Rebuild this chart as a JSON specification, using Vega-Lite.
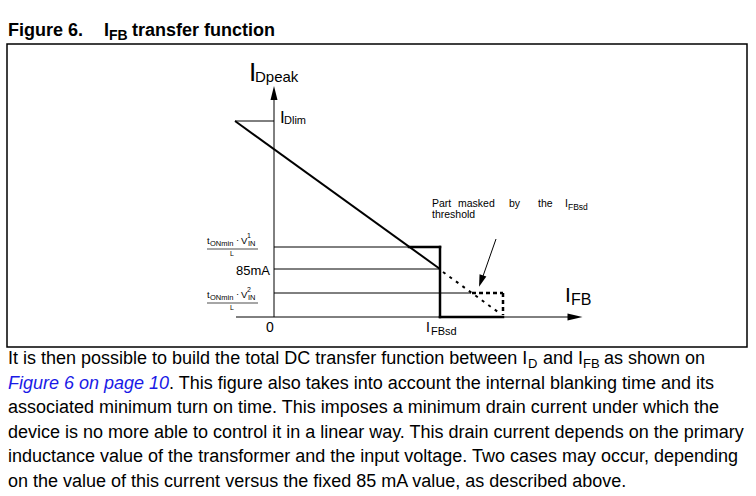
{
  "$schema": "https://vega.github.io/schema/vega-lite/v6.json",
  "width": 756,
  "height": 496,
  "padding": 0,
  "autosize": {"type": "none"},
  "background": "white",
  "config": {"view": {"stroke": null}},
  "datasets": {
    "box": [{"x": 7, "y": 44, "x2": 747, "y2": 347}],
    "thin": [
      {"x": 274, "y": 317, "x2": 274, "y2": 98},
      {"x": 236, "y": 317, "x2": 570, "y2": 317},
      {"x": 235, "y": 121, "x2": 274, "y2": 121},
      {"x": 274, "y": 247, "x2": 409, "y2": 247},
      {"x": 274, "y": 269, "x2": 440, "y2": 269},
      {"x": 274, "y": 293, "x2": 471, "y2": 293},
      {"x": 496, "y": 239, "x2": 482, "y2": 279}
    ],
    "frac": [
      {"x": 207, "y": 249, "x2": 258, "y2": 249},
      {"x": 207, "y": 303, "x2": 258, "y2": 303}
    ],
    "diag": [{"x": 235, "y": 121, "x2": 440, "y2": 269}],
    "thick": [
      {"x": 409, "y": 247, "x2": 440, "y2": 247},
      {"x": 440, "y": 247, "x2": 440, "y2": 317},
      {"x": 440, "y": 317, "x2": 503, "y2": 317}
    ],
    "dash": [{"x": 443, "y": 272, "x2": 498, "y2": 312}],
    "dot": [
      {"x": 472, "y": 293, "x2": 503, "y2": 293},
      {"x": 503, "y": 293, "x2": 503, "y2": 315}
    ],
    "yarrow": [{"x": 274, "y": 93}],
    "xarrow": [{"x": 575, "y": 317}],
    "aarrow": [{"x": 481, "y": 281}],
    "titleText": [
      {"x": 8, "y": 36, "t": "Figure 6."},
      {"x": 104, "y": 36, "t": "I"},
      {"x": 132, "y": 36, "t": "transfer function"}
    ],
    "titleSub": [{"x": 109, "y": 40, "t": "FB"}],
    "bigI": [{"x": 249, "y": 81, "t": "I"}],
    "dpeak": [{"x": 255, "y": 82, "t": "Dpeak"}],
    "ifbI": [{"x": 565, "y": 302, "t": "I"}],
    "ifbSub": [{"x": 571, "y": 305, "t": "FB"}],
    "midI": [{"x": 280, "y": 123, "t": "I"}],
    "smallSub": [
      {"x": 284, "y": 124, "t": "Dlim"},
      {"x": 431, "y": 335, "t": "FBsd"}
    ],
    "label13": [{"x": 270, "y": 275, "t": "85mA"}],
    "zero": [{"x": 270, "y": 332, "t": "0"}],
    "ifbsdI": [{"x": 426, "y": 332, "t": "I"}],
    "note": [
      {"x": 432, "y": 207, "t": "Part"},
      {"x": 458, "y": 207, "t": "masked"},
      {"x": 509, "y": 207, "t": "by"},
      {"x": 538, "y": 207, "t": "the"},
      {"x": 565, "y": 207, "t": "I"}
    ],
    "note2": [{"x": 432, "y": 218, "t": "threshold"}],
    "noteSub": [{"x": 568, "y": 210, "t": "FBsd"}],
    "fracMain": [
      {"x": 207, "y": 244, "t": "t"},
      {"x": 236, "y": 243, "t": "·"},
      {"x": 241, "y": 244, "t": "V"},
      {"x": 207, "y": 298, "t": "t"},
      {"x": 236, "y": 297, "t": "·"},
      {"x": 241, "y": 298, "t": "V"}
    ],
    "fracSub": [
      {"x": 210, "y": 246, "t": "ONmin"},
      {"x": 248, "y": 246, "t": "IN"},
      {"x": 210, "y": 300, "t": "ONmin"},
      {"x": 248, "y": 300, "t": "IN"}
    ],
    "fracTiny": [
      {"x": 247, "y": 238, "t": "1"},
      {"x": 230, "y": 256, "t": "L"},
      {"x": 247, "y": 292, "t": "2"},
      {"x": 230, "y": 310, "t": "L"}
    ],
    "para": [
      {"x": 8, "y": 364, "t": "It is then possible to build the total DC transfer function between I"},
      {"x": 543, "y": 364, "t": "and I"},
      {"x": 604, "y": 364, "t": "as shown on"},
      {"x": 169, "y": 388.5, "t": ". This figure also takes into account the internal blanking time and its"},
      {"x": 8, "y": 413, "t": "associated minimum turn on time. This imposes a minimum drain current under which the"},
      {"x": 8, "y": 437.5, "t": "device is no more able to control it in a linear way. This drain current depends on the primary"},
      {"x": 8, "y": 462, "t": "inductance value of the transformer and the input voltage. Two cases may occur, depending"},
      {"x": 8, "y": 486.5, "t": "on the value of this current versus the fixed 85 mA value, as described above."}
    ],
    "paraSub": [
      {"x": 528, "y": 368, "t": "D"},
      {"x": 583, "y": 368, "t": "FB"}
    ],
    "link": [{"x": 8, "y": 388.5, "t": "Figure 6 on page 10"}]
  },
  "encoding": {
    "x": {"field": "x", "type": "quantitative", "scale": {"domain": [0, 756], "nice": false, "zero": false}, "axis": null},
    "y": {"field": "y", "type": "quantitative", "scale": {"domain": [0, 496], "nice": false, "zero": false, "reverse": true}, "axis": null}
  },
  "layer": [
    {"data": {"name": "box"}, "mark": {"type": "rect", "fill": null, "fillOpacity": 0, "stroke": "black", "strokeWidth": 1.5}, "encoding": {"x2": {"field": "x2"}, "y2": {"field": "y2"}}},
    {"data": {"name": "thin"}, "mark": {"type": "rule", "color": "black", "strokeWidth": 1}, "encoding": {"x2": {"field": "x2"}, "y2": {"field": "y2"}}},
    {"data": {"name": "frac"}, "mark": {"type": "rule", "color": "black", "strokeWidth": 0.7}, "encoding": {"x2": {"field": "x2"}, "y2": {"field": "y2"}}},
    {"data": {"name": "diag"}, "mark": {"type": "rule", "color": "black", "strokeWidth": 2}, "encoding": {"x2": {"field": "x2"}, "y2": {"field": "y2"}}},
    {"data": {"name": "thick"}, "mark": {"type": "rule", "color": "black", "strokeWidth": 2.5, "strokeCap": "square"}, "encoding": {"x2": {"field": "x2"}, "y2": {"field": "y2"}}},
    {"data": {"name": "dash"}, "mark": {"type": "rule", "color": "black", "strokeWidth": 2, "strokeDash": [3, 5]}, "encoding": {"x2": {"field": "x2"}, "y2": {"field": "y2"}}},
    {"data": {"name": "dot"}, "mark": {"type": "rule", "color": "black", "strokeWidth": 2.5, "strokeDash": [4, 3]}, "encoding": {"x2": {"field": "x2"}, "y2": {"field": "y2"}}},
    {"data": {"name": "yarrow"}, "mark": {"type": "point", "shape": "M0,-1L0.5,1L-0.5,1Z", "filled": true, "color": "black", "opacity": 1, "size": 196, "angle": 0, "strokeWidth": 0}},
    {"data": {"name": "xarrow"}, "mark": {"type": "point", "shape": "M0,-1L0.47,1L-0.47,1Z", "filled": true, "color": "black", "opacity": 1, "size": 225, "angle": 90, "strokeWidth": 0}},
    {"data": {"name": "aarrow"}, "mark": {"type": "point", "shape": "M0,-1L0.6,1L-0.6,1Z", "filled": true, "color": "black", "opacity": 1, "size": 144, "angle": 199, "strokeWidth": 0}},
    {"data": {"name": "titleText"}, "mark": {"type": "text", "font": "Liberation Sans", "fontSize": 18, "fontWeight": "bold", "align": "left", "baseline": "alphabetic", "color": "black"}, "encoding": {"text": {"field": "t"}}},
    {"data": {"name": "titleSub"}, "mark": {"type": "text", "font": "Liberation Sans", "fontSize": 14, "fontWeight": "bold", "align": "left", "baseline": "alphabetic", "color": "black"}, "encoding": {"text": {"field": "t"}}},
    {"data": {"name": "bigI"}, "mark": {"type": "text", "font": "Liberation Sans", "fontSize": 26, "align": "left", "baseline": "alphabetic", "color": "black"}, "encoding": {"text": {"field": "t"}}},
    {"data": {"name": "dpeak"}, "mark": {"type": "text", "font": "Liberation Sans", "fontSize": 15, "align": "left", "baseline": "alphabetic", "color": "black"}, "encoding": {"text": {"field": "t"}}},
    {"data": {"name": "ifbI"}, "mark": {"type": "text", "font": "Liberation Sans", "fontSize": 21, "align": "left", "baseline": "alphabetic", "color": "black"}, "encoding": {"text": {"field": "t"}}},
    {"data": {"name": "ifbSub"}, "mark": {"type": "text", "font": "Liberation Sans", "fontSize": 16, "align": "left", "baseline": "alphabetic", "color": "black"}, "encoding": {"text": {"field": "t"}}},
    {"data": {"name": "midI"}, "mark": {"type": "text", "font": "Liberation Sans", "fontSize": 17, "align": "left", "baseline": "alphabetic", "color": "black"}, "encoding": {"text": {"field": "t"}}},
    {"data": {"name": "smallSub"}, "mark": {"type": "text", "font": "Liberation Sans", "fontSize": 11, "align": "left", "baseline": "alphabetic", "color": "black"}, "encoding": {"text": {"field": "t"}}},
    {"data": {"name": "label13"}, "mark": {"type": "text", "font": "Liberation Sans", "fontSize": 13, "align": "right", "baseline": "alphabetic", "color": "black"}, "encoding": {"text": {"field": "t"}}},
    {"data": {"name": "zero"}, "mark": {"type": "text", "font": "Liberation Sans", "fontSize": 14, "align": "center", "baseline": "alphabetic", "color": "black"}, "encoding": {"text": {"field": "t"}}},
    {"data": {"name": "ifbsdI"}, "mark": {"type": "text", "font": "Liberation Sans", "fontSize": 14, "align": "left", "baseline": "alphabetic", "color": "black"}, "encoding": {"text": {"field": "t"}}},
    {"data": {"name": "note"}, "mark": {"type": "text", "font": "Liberation Sans", "fontSize": 10.5, "align": "left", "baseline": "alphabetic", "color": "black"}, "encoding": {"text": {"field": "t"}}},
    {"data": {"name": "note2"}, "mark": {"type": "text", "font": "Liberation Sans", "fontSize": 10.5, "align": "left", "baseline": "alphabetic", "color": "black"}, "encoding": {"text": {"field": "t"}}},
    {"data": {"name": "noteSub"}, "mark": {"type": "text", "font": "Liberation Sans", "fontSize": 8.5, "align": "left", "baseline": "alphabetic", "color": "black"}, "encoding": {"text": {"field": "t"}}},
    {"data": {"name": "fracMain"}, "mark": {"type": "text", "font": "Liberation Sans", "fontSize": 9.5, "align": "left", "baseline": "alphabetic", "color": "black"}, "encoding": {"text": {"field": "t"}}},
    {"data": {"name": "fracSub"}, "mark": {"type": "text", "font": "Liberation Sans", "fontSize": 7.5, "align": "left", "baseline": "alphabetic", "color": "black"}, "encoding": {"text": {"field": "t"}}},
    {"data": {"name": "fracTiny"}, "mark": {"type": "text", "font": "Liberation Sans", "fontSize": 7, "align": "left", "baseline": "alphabetic", "color": "black"}, "encoding": {"text": {"field": "t"}}},
    {"data": {"name": "para"}, "mark": {"type": "text", "font": "Liberation Sans", "fontSize": 18, "align": "left", "baseline": "alphabetic", "color": "black"}, "encoding": {"text": {"field": "t"}}},
    {"data": {"name": "paraSub"}, "mark": {"type": "text", "font": "Liberation Sans", "fontSize": 13, "align": "left", "baseline": "alphabetic", "color": "black"}, "encoding": {"text": {"field": "t"}}},
    {"data": {"name": "link"}, "mark": {"type": "text", "font": "Liberation Sans", "fontSize": 18, "fontStyle": "italic", "align": "left", "baseline": "alphabetic", "color": "#1a1ae6"}, "encoding": {"text": {"field": "t"}}}
  ]
}
